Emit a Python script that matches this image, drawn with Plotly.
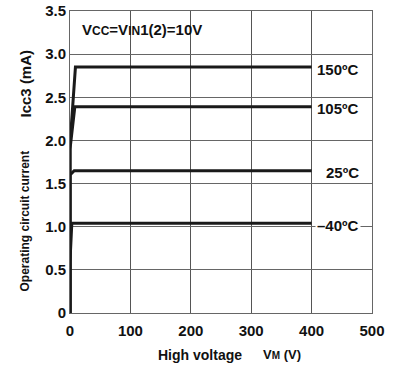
import plotly.graph_objects as go

# Operating circuit current Icc3 vs high voltage VM, per temperature
temps = ["150ºC", "105ºC", "25ºC", "–40ºC"]
vm_points = [
    [0, 0, 9, 400],
    [0, 0, 8, 400],
    [0, 0, 7, 400],
    [0, 0, 3, 400],
]
icc_points = [
    [0, 1.95, 2.85, 2.85],
    [0, 1.90, 2.39, 2.39],
    [0, 1.60, 1.65, 1.65],
    [0, 0.60, 1.04, 1.04],
]
label_x = [406, 406, 421, 406]

x_ticks = [0, 100, 200, 300, 400, 500]
y_ticks = [0, 0.5, 1.0, 1.5, 2.0, 2.5, 3.0, 3.5]
y_ticktext = ["0", "0.5", "1.0", "1.5", "2.0", "2.5", "3.0", "3.5"]

FONT = "Liberation Sans, Arial, sans-serif"
INK = "#111"


def bold(size):
    return dict(family=FONT, size=size, color=INK, weight="bold")


fig = go.Figure()
for name, xs, ys in zip(temps, vm_points, icc_points):
    fig.add_trace(go.Scatter(
        x=xs, y=ys, mode="lines", name=name,
        line=dict(color="#1a1a1a", width=3),
        showlegend=False, hoverinfo="skip",
    ))

# temperature labels at the right end of each curve
for name, ys, lx in zip(temps, icc_points, label_x):
    fig.add_annotation(
        x=lx, y=ys[-1], text=name, showarrow=False,
        xanchor="left", yanchor="middle", yshift=-2,
        font=bold(15), bgcolor="white", borderpad=1,
    )

# test condition
fig.add_annotation(
    x=17, y=3.29, xref="x", yref="y",
    text=("V<span style='font-size:12px'>CC</span>=V"
          "<span style='font-size:12px'>IN</span>1(2)=10V"),
    showarrow=False, xanchor="left", yanchor="middle", font=bold(15),
)

# axis titles, split into the quantity name and its symbol/unit
fig.add_annotation(
    x=-0.149, y=0.303, xref="paper", yref="paper",
    text="Operating circuit current", textangle=-90,
    showarrow=False, xanchor="center", yanchor="middle", font=bold(12),
)
fig.add_annotation(
    x=-0.149, y=0.760, xref="paper", yref="paper",
    text="Icc3 (mA)", textangle=-90,
    showarrow=False, xanchor="center", yanchor="middle", font=bold(15),
)
fig.add_annotation(
    x=0.285, y=-0.139, xref="paper", yref="paper",
    text="High voltage", showarrow=False,
    xanchor="left", yanchor="middle", font=bold(14),
)
fig.add_annotation(
    x=0.632, y=-0.139, xref="paper", yref="paper",
    text="V<span style='font-size:10px'>M</span> (V)", showarrow=False,
    xanchor="left", yanchor="middle", font=bold(13),
)

fig.update_xaxes(
    range=[0, 500], tickvals=x_ticks, ticktext=[str(v) for v in x_ticks],
    showgrid=True, gridcolor="#555", gridwidth=1,
    showline=True, linecolor="#666", linewidth=1, mirror=True,
    zeroline=False, ticks="", ticklabelstandoff=4, automargin=False,
    tickfont=bold(15),
)
fig.update_yaxes(
    range=[0, 3.5], tickvals=y_ticks, ticktext=y_ticktext,
    showgrid=True, gridcolor="#666", gridwidth=1,
    showline=True, linecolor="#666", linewidth=1, mirror=True,
    zeroline=False, ticks="", automargin=False,
    tickfont=bold(15),
)

fig.update_layout(
    width=398, height=373,
    margin=dict(l=70, r=26, t=11, b=60),
    paper_bgcolor="white", plot_bgcolor="white",
)

fig.write_html("out.html")
